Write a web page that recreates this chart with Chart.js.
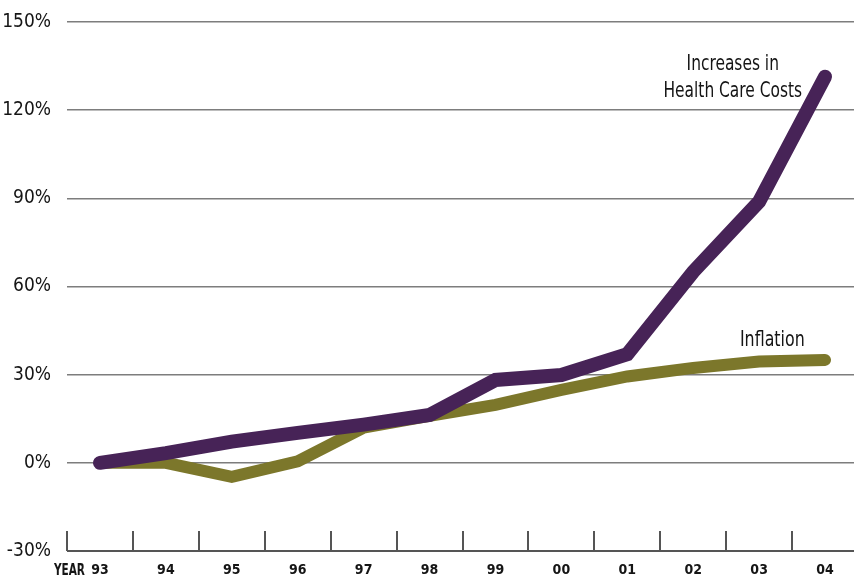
<!DOCTYPE html>
<html>
<head>
<meta charset="utf-8">
<script src="https://cdn.jsdelivr.net/npm/chart.js@4.4.1/dist/chart.umd.min.js"></script>
<style>
  html, body { margin: 0; padding: 0; background: #ffffff; overflow: hidden; }
  #wrap { width: 854px; height: 580px; overflow: hidden; position: relative; }
  canvas { display: block; }
</style>
</head>
<body>
<div id="wrap"><canvas id="chart" width="858" height="580"></canvas></div>
<script>
// Cumulative change since 1993, in percent
const years = ['93', '94', '95', '96', '97', '98', '99', '00', '01', '02', '03', '04'];
const healthCareCosts = [0, 3.3, 7.2, 10.2, 13, 16.3, 28.2, 29.9, 37, 65, 88.9, 131.4];
const inflation = [0, 0, -4.8, 0.5, 12, 16, 19.7, 24.8, 29.4, 32.3, 34.5, 35];
const yTicks = [-30, 0, 30, 60, 90, 120, 150];

const FONT = '"DejaVu Sans Condensed", "Liberation Sans", sans-serif';
const PURPLE = '#472357';
const OLIVE = '#7c772b';

// Draws condensed text by squeezing the canvas horizontally around (x, y)
function narrowText(ctx, text, x, y, squeeze) {
  ctx.save();
  ctx.translate(x, y);
  ctx.scale(squeeze, 1);
  ctx.fillText(text, 0, 0);
  ctx.restore();
}

// Tick marks at the year boundaries, the "YEAR" caption and the series labels
const decorations = {
  id: 'decorations',
  afterDraw(chart) {
    const ctx = chart.ctx;
    const xs = chart.scales.x;
    const ys = chart.scales.y;
    const bottom = chart.chartArea.bottom;
    const step = xs.getPixelForValue(1) - xs.getPixelForValue(0);

    ctx.save();
    ctx.strokeStyle = '#555555';
    ctx.lineWidth = 2;
    for (let i = 0; i < years.length; i++) {
      const x = Math.round(xs.getPixelForValue(i) - step / 2);
      ctx.beginPath();
      ctx.moveTo(x, bottom - 20);
      ctx.lineTo(x, bottom);
      ctx.stroke();
    }

    ctx.fillStyle = '#151515';
    ctx.font = 'bold 15px ' + FONT;
    ctx.textAlign = 'right';
    ctx.textBaseline = 'middle';
    narrowText(ctx, 'YEAR', xs.getPixelForValue(0) - 15, bottom + 20, 0.78);

    ctx.font = '22px ' + FONT;
    ctx.textAlign = 'center';
    ctx.textBaseline = 'middle';
    const hx = xs.getPixelForValue(9.6);
    narrowText(ctx, 'Increases in', hx, ys.getPixelForValue(135.6), 0.78);
    narrowText(ctx, 'Health Care Costs', hx, ys.getPixelForValue(126.3), 0.78);
    narrowText(ctx, 'Inflation', xs.getPixelForValue(10.2), ys.getPixelForValue(41.8), 0.8);
    ctx.restore();
  }
};

new Chart(document.getElementById('chart'), {
  type: 'line',
  data: {
    labels: years,
    datasets: [
      {
        label: 'Increases in Health Care Costs',
        data: healthCareCosts,
        borderColor: PURPLE,
        backgroundColor: PURPLE,
        borderWidth: 14,
        borderCapStyle: 'round',
        borderJoinStyle: 'miter',
        pointRadius: 0,
        tension: 0
      },
      {
        label: 'Inflation',
        data: inflation,
        borderColor: OLIVE,
        backgroundColor: OLIVE,
        borderWidth: 12,
        borderCapStyle: 'round',
        borderJoinStyle: 'miter',
        pointRadius: 0,
        tension: 0
      }
    ]
  },
  options: {
    responsive: false,
    animation: false,
    layout: { padding: { top: 22, right: 0, bottom: 0, left: 0 } },
    plugins: { legend: { display: false }, tooltip: { enabled: false } },
    scales: {
      x: {
        type: 'category',
        offset: true,
        grid: { display: false, drawTicks: false },
        border: { display: false },
        ticks: {
          color: '#151515',
          font: { family: FONT, size: 14, weight: 'bold' },
          padding: 11,
          maxRotation: 0,
          autoSkip: false
        },
        afterFit(scale) { scale.height = 29; }
      },
      y: {
        min: -30,
        max: 150,
        afterBuildTicks(scale) { scale.ticks = yTicks.map(v => ({ value: v })); },
        grid: {
          drawTicks: false,
          color: ctx => (ctx.tick && ctx.tick.value === -30 ? '#555555' : '#7d7d7d'),
          lineWidth: ctx => (ctx.tick && ctx.tick.value === -30 ? 2 : 1.5)
        },
        border: { display: false },
        ticks: {
          color: '#151515',
          font: { family: FONT, size: 19 },
          padding: 16,
          callback: v => v + '%'
        },
        afterFit(scale) {
          scale.width = 67;
          scale.paddingTop = 0;
          scale.paddingBottom = 0;
        }
      }
    }
  },
  plugins: [decorations]
});
</script>
</body>
</html>
